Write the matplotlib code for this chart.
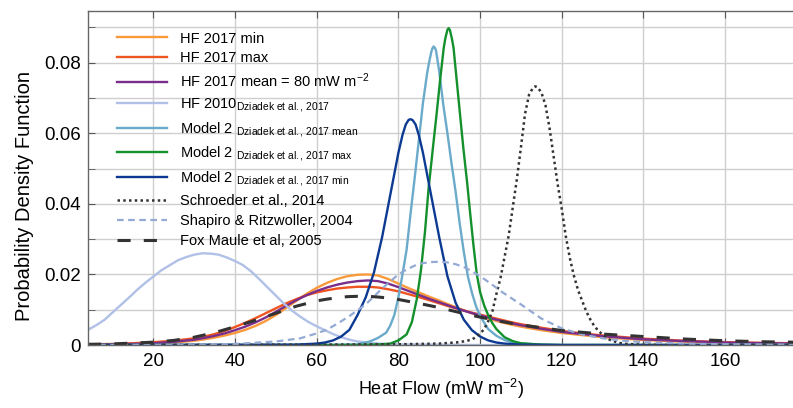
import matplotlib
matplotlib.use("Agg")
import matplotlib.pyplot as plt
from matplotlib.ticker import MultipleLocator, FixedLocator

plt.rcParams['font.family'] = ['Liberation Sans', 'DejaVu Sans']
plt.rcParams['mathtext.fontset'] = 'custom'
plt.rcParams['mathtext.rm'] = 'Liberation Sans'
plt.rcParams['mathtext.it'] = 'Liberation Sans:italic'
plt.rcParams['mathtext.bf'] = 'Liberation Sans:bold'

# ---------------- data ----------------
hf_x = [4, 10, 15, 20, 25, 30, 32.5, 35, 37.5, 40, 42.5, 45, 47.5, 50, 52.5, 55,
        57.5, 60, 62.5, 65, 67.5, 70, 72.5, 75, 77.5, 80, 82.5, 85, 87.5, 90,
        92.5, 95, 97.5, 100, 102.5, 105, 107.5, 110, 115, 120, 125, 130, 140,
        150, 160, 170, 177]
hf_min = [.0001, .0001, .0002, .0004, .0007, .0012, .0016, .0021, .0027, .0034,
          .0043, .0054, .0068, .0085, .0105, .0125, .0145, .0162, .0176, .0187,
          .0195, .0199, .0200, .0197, .0187, .0174, .0161, .0149, .0137, .0126,
          .0114, .0103, .0092, .0082, .0073, .0065, .0058, .0052, .0042, .0034,
          .0028, .0022, .0014, .0009, .0006, .0004, .0003]
hf_max = [.0002, .0003, .0005, .0008, .0012, .0019, .0024, .0031, .0040, .0051,
          .0063, .0076, .0090, .0104, .0118, .0130, .0141, .0149, .0155, .0160,
          .0163, .0165, .0165, .0163, .0158, .0152, .0144, .0136, .0127, .0118,
          .0109, .0101, .0093, .0086, .0079, .0072, .0065, .0059, .0049, .0040,
          .0033, .0027, .0018, .0012, .0008, .0006, .0005]
hf_mean = [.0001, .0002, .0003, .0005, .0009, .0015, .0020, .0026, .0033, .0042,
           .0052, .0064, .0078, .0094, .0111, .0127, .0141, .0153, .0163, .0171,
           .0177, .0181, .0183, .0181, .0174, .0164, .0153, .0142, .0131, .0121,
           .0111, .0101, .0092, .0084, .0076, .0069, .0062, .0056, .0046, .0037,
           .0031, .0025, .0016, .0011, .0007, .0005, .0004]

hf2010_x = [4, 6, 8, 10, 12, 14, 16, 18, 20, 22, 24, 26, 28, 30, 32, 34, 36, 38,
            40, 42, 44, 46, 48, 50, 52, 54, 56, 58, 60, 62, 64, 66, 68, 70, 75,
            80, 90, 100, 177]
hf2010 = [.0043, .0056, .0071, .0092, .0113, .0134, .0156, .0176, .0194, .0212,
          .0226, .0240, .0249, .0256, .0260, .0259, .0256, .0248, .0238, .0226,
          .0208, .0186, .0163, .0140, .0117, .0097, .0080, .0065, .0053, .0042,
          .0031, .0022, .0015, .0010, .0004, .0002, .0001, .0, .0]

m2mean_x = [4, 60, 70, 73, 75, 77, 78, 79, 80, 81, 82, 83, 84, 85, 86, 87, 87.5,
            88, 88.3, 88.6, 88.9, 89.2, 90, 91, 92, 93, 94, 95, 96, 97, 98, 99,
            100, 102, 104, 106, 108, 110, 115, 120, 177]
m2mean = [0, 0, .0002, .0010, .0020, .0035, .0055, .0085, .0135, .0200, .0270,
          .0375, .0475, .0580, .0685, .0768, .0800, .0828, .0840, .0846, .0843,
          .0835, .0775, .0680, .0600, .0515, .0435, .0345, .0265, .0195, .0148,
          .0110, .0082, .0045, .0026, .0014, .0007, .0004, .0001, 0, 0]

m2max_x = [4, 70, 76, 78, 80, 82, 83.3, 84.5, 85.5, 86.5, 87.4, 88, 88.6, 89.4,
           90.2, 91.1, 91.5, 92.0, 92.3, 92.6, 93.1, 93.5, 94.3, 95.1, 95.9,
           96.8, 97.6, 98.4, 99.2, 100, 101, 102, 103, 104, 106, 108, 110, 115,
           120, 177]
m2max = [0, 0, .0002, .0004, .0013, .0030, .0065, .0130, .0210, .0320, .0445,
         .0510, .0575, .0660, .0750, .0842, .0870, .0893, .0898, .0893, .0868,
         .0842, .0747, .0652, .0558, .0463, .0370, .0280, .0200, .0150, .0112,
         .0084, .0062, .0045, .0022, .0011, .0005, .0001, 0, 0]

m2min_x = [4, 55, 60, 62, 64, 66, 68, 70, 72, 74, 76, 78, 80, 81, 81.8, 82.5,
           83, 83.5, 84.2, 85, 86, 88, 90, 92, 94, 96, 98, 100, 102, 104, 106,
           110, 120, 177]
m2min = [0, .0001, .0004, .0007, .0013, .0024, .0043, .0085, .0135, .0205,
         .0305, .0425, .0545, .0595, .0625, .0638, .0640, .0637, .0625, .0595,
         .0545, .0425, .0305, .0195, .0120, .0072, .0042, .0024, .0013, .0007,
         .0004, .0001, 0, 0]

sch_x = [4, 60, 80, 90, 95, 98, 100, 101, 102, 103, 104, 105, 106, 107, 108,
         109, 110, 111, 112, 113, 113.5, 114, 115, 116, 117, 118, 119, 120, 121,
         122, 123, 124, 125, 126, 127, 128, 129, 130, 131, 132, 134, 136, 140,
         150, 177]
sch = [0, .0001, .0002, .0004, .0008, .0015, .0032, .0045, .0068, .0095, .0145,
       .0190, .0250, .0310, .0390, .0470, .0560, .0655, .0710, .0730, .0733,
       .0731, .0716, .0680, .0615, .0535, .0455, .0385, .0307, .0245, .0195,
       .0155, .0125, .0095, .0072, .0053, .0040, .0029, .0020, .0013, .0006,
       .0003, .0001, 0, 0]

sha_x = [4, 30, 40, 50, 56, 60, 62.4, 65, 68, 72, 76, 80, 82, 84, 86, 88, 90,
         92, 94, 96, 98, 100, 102.5, 105, 110, 115, 120, 125, 130, 135, 140,
         150, 160, 177]
sha = [0, .0001, .0003, .0010, .0019, .0033, .0043, .0060, .0082, .0115, .0160,
       .0200, .0214, .0225, .0232, .0235, .0236, .0234, .0229, .0221, .0209,
       .0195, .0175, .0153, .0115, .0075, .0047, .0030, .0019, .0012, .0008,
       .0004, .0002, .0001]

fox_x = [4, 10, 20, 25, 30, 35, 40, 45, 50, 55, 60, 62.5, 65, 67.5, 70, 72.5,
         75, 77.5, 80, 85, 90, 95, 100, 105, 110, 115, 120, 130, 140, 150, 160,
         170, 177]
fox = [.0002, .0003, .0008, .0013, .0022, .0035, .0052, .0070, .0090, .0110,
       .0125, .0130, .0134, .0137, .0138, .0138, .0136, .0133, .0129, .0118,
       .0106, .0092, .0079, .0067, .0057, .0049, .0041, .0031, .0024, .0017,
       .0012, .0009, .0008]

labels = [
    "HF 2017 min",
    "HF 2017 max",
    r"HF 2017 mean = 80 mW m$^{-2}$",
    r"HF 2010$_{\mathrm{Dziadek\ et\ al.{,}\ 2017}}$",
    r"Model 2 $_{\mathrm{Dziadek\ et\ al.{,}\ 2017\ mean}}$",
    r"Model 2 $_{\mathrm{Dziadek\ et\ al.{,}\ 2017\ max}}$",
    r"Model 2 $_{\mathrm{Dziadek\ et\ al.{,}\ 2017\ min}}$",
    "Schroeder et al., 2014",
    "Shapiro & Ritzwoller, 2004",
    "Fox Maule et al, 2005",
]

x_ticks = [20, 40, 60, 80, 100, 120, 140, 160]
y_ticks = [0, 0.02, 0.04, 0.06, 0.08]
y_ticklabels = ["0", "0.02", "0.04", "0.06", "0.08"]

# ---------------- figure ----------------
fig = plt.figure(figsize=(7.93, 4.08), dpi=100)
ax = fig.add_axes([88 / 793, 1 - 345 / 408, 1 - 88 / 793 + 0.002, (345 - 10.5) / 408])

lw = 1.7
ax.plot(hf_x, hf_min, color="#F89A3A", lw=lw, label=labels[0])
ax.plot(hf_x, hf_max, color="#EE5520", lw=lw, label=labels[1])
ax.plot(hf_x, hf_mean, color="#7A2E8C", lw=lw, label=labels[2])
ax.plot(hf2010_x, hf2010, color="#B0C0E6", lw=lw, label=labels[3])
ax.plot(m2mean_x, m2mean, color="#6BAACB", lw=lw, label=labels[4])
ax.plot(m2max_x, m2max, color="#14902C", lw=lw, label=labels[5])
ax.plot(m2min_x, m2min, color="#0C3A92", lw=lw, label=labels[6])
ax.plot(sch_x, sch, color="#333333", lw=1.8, linestyle=(0, (1, 1.3)), label=labels[7])
ax.plot(sha_x, sha, color="#94AAD4", lw=1.6, linestyle=(0, (3, 2)), label=labels[8])
ax.plot(fox_x, fox, color="#333333", lw=2.2, linestyle=(0, (4.3, 4.3)), label=labels[9])

ax.set_xlim(4, 177)
ax.set_ylim(0, 0.0948)

ax.xaxis.set_major_locator(FixedLocator(x_ticks))
ax.yaxis.set_major_locator(FixedLocator(y_ticks))
ax.yaxis.set_minor_locator(MultipleLocator(0.01))
ax.set_yticklabels(y_ticklabels)

ax.grid(True, which="major", axis="x", color="#CFCFCF", lw=1.0)
ax.grid(True, which="both", axis="y", color="#CFCFCF", lw=1.0)
ax.set_axisbelow(True)

ax.tick_params(axis="both", which="both", direction="in", colors="#555555",
               labelcolor="black", labelsize=13.5)
ax.tick_params(axis="x", which="major", length=5, top=True, pad=6)
ax.tick_params(axis="y", which="both", length=5, pad=5)

for side in ["left", "top", "bottom"]:
    ax.spines[side].set_color("#666666")
    ax.spines[side].set_linewidth(1.0)
ax.spines["right"].set_visible(False)

ax.set_xlabel(r"Heat Flow (mW m$^{-2}$)", fontsize=13, labelpad=5)
ax.set_ylabel("Probability Density Function", fontsize=14.5)
ax.yaxis.set_label_coords(-0.077, 0.446)

leg = ax.legend(loc="upper left", bbox_to_anchor=(0.041, 0.937), frameon=False,
                fontsize=10.5, handlelength=3.4, handletextpad=0.9,
                labelspacing=0.40, borderpad=0, borderaxespad=0)

fig.savefig("out.png", dpi=100)
